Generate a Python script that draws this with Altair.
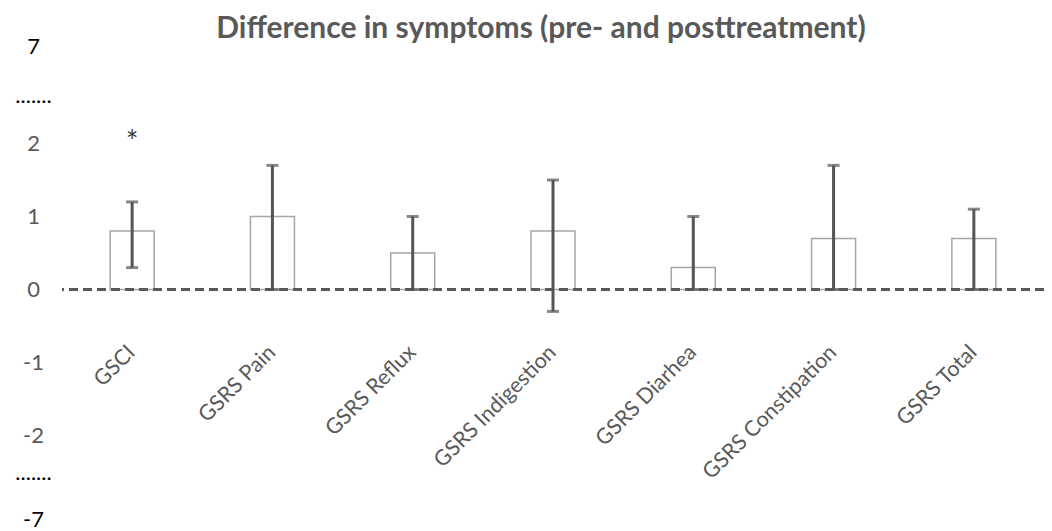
import json
import altair as alt
import pandas as pd

categories = ["GSCI", "GSRS Pain", "GSRS Reflux", "GSRS Indigestion",
              "GSRS Diarhea", "GSRS Constipation", "GSRS Total"]
mean_diff = [0.8, 1.0, 0.5, 0.8, 0.3, 0.7, 0.7]
ci_low = [0.3, 0.0, 0.0, -0.3, 0.0, 0.0, 0.0]
ci_high = [1.2, 1.7, 1.0, 1.5, 1.0, 1.7, 1.1]
significance = ["*", "", "", "", "", "", ""]
sig_y = [1.88, None, None, None, None, None, None]

# broken axis: label positions and their texts
y_tick_values = [3.33, 2.66, 2, 1, 0, -1, -2, -2.5, -3.15]
y_tick_labels = ["7", ".......", "2", "1", "0", "-1", "-2", ".......", "-7"]

df = pd.DataFrame({
    "cat": categories,
    "mean": mean_diff,
    "lo": ci_low,
    "hi": ci_high,
    "sig": significance,
    "sig_y": sig_y,
})

FONT = "Lato"
GREY = "#595959"

label_expr = f"{json.dumps(y_tick_labels)}[indexof({json.dumps(y_tick_values)}, datum.value)]"

x_enc = alt.X(
    "cat:N",
    sort=categories,
    scale=alt.Scale(paddingInner=0, paddingOuter=0),
    axis=alt.Axis(
        title=None, orient="bottom", domain=False, ticks=False,
        labelAngle=-45, labelAlign="right", labelBaseline="middle",
        labelFont=FONT, labelFontSize=21.5, labelColor=GREY,
        offset=-179, labelPadding=0, labelOffset=0, labelLimit=400,
    ),
)
y_scale = alt.Scale(domain=[-3.267, 3.445], nice=False, zero=False)
y_axis = alt.Axis(
    title=None, domain=False, ticks=False, grid=False, tickSize=0,
    values=y_tick_values, labelExpr=label_expr,
    labelAlign="center", labelBaseline="middle", labelPadding=29,
    labelFont=FONT, labelFontSize=22,
    labelColor={"condition": {"test": "abs(datum.value) > 2.3", "value": "#000000"},
                "value": GREY},
    labelOverlap=False, labelFlush=False,
)

base = alt.Chart(df)

bars = base.mark_bar(size=44, fill="white", stroke="#a6a6a6", strokeWidth=1.5).encode(
    x=x_enc,
    y=alt.Y("mean:Q", scale=y_scale, axis=y_axis),
)

zero_line = base.mark_rule(color=GREY, strokeWidth=2, strokeDash=[9, 5]).encode(
    y=alt.datum(0),
)

err = base.mark_rule(color="#555555", strokeWidth=3).encode(
    x=alt.X("cat:N", sort=categories),
    y=alt.Y("lo:Q"),
    y2="hi:Q",
)
cap_hi = base.mark_tick(color="#555555", size=12, thickness=3).encode(
    x=alt.X("cat:N", sort=categories),
    y=alt.Y("hi:Q"),
)
cap_lo = base.mark_tick(color="#555555", size=12, thickness=3).encode(
    x=alt.X("cat:N", sort=categories),
    y=alt.Y("lo:Q"),
)
stars = base.transform_filter("datum.sig != ''").mark_text(
    font=FONT, fontSize=30, color="#404040", baseline="alphabetic", align="center"
).encode(
    x=alt.X("cat:N", sort=categories),
    y=alt.Y("sig_y:Q"),
    text="sig:N",
)

chart = alt.layer(bars, zero_line, err, cap_hi, cap_lo, stars).properties(
    width=982,
    height=490,
    autosize=alt.AutoSizeParams(type="none"),
    padding={"left": 54, "top": 30, "right": 0, "bottom": 12},
    title=alt.TitleParams(
        "Difference in symptoms (pre- and posttreatment)",
        font=FONT, fontSize=30, fontWeight="bold", color=GREY,
        anchor="middle", dx=-12, baseline="alphabetic", offset=-33,
    ),
    background="white",
).configure_view(stroke=None)

chart.save("out.html", embed_options={"renderer": "svg", "actions": False})
